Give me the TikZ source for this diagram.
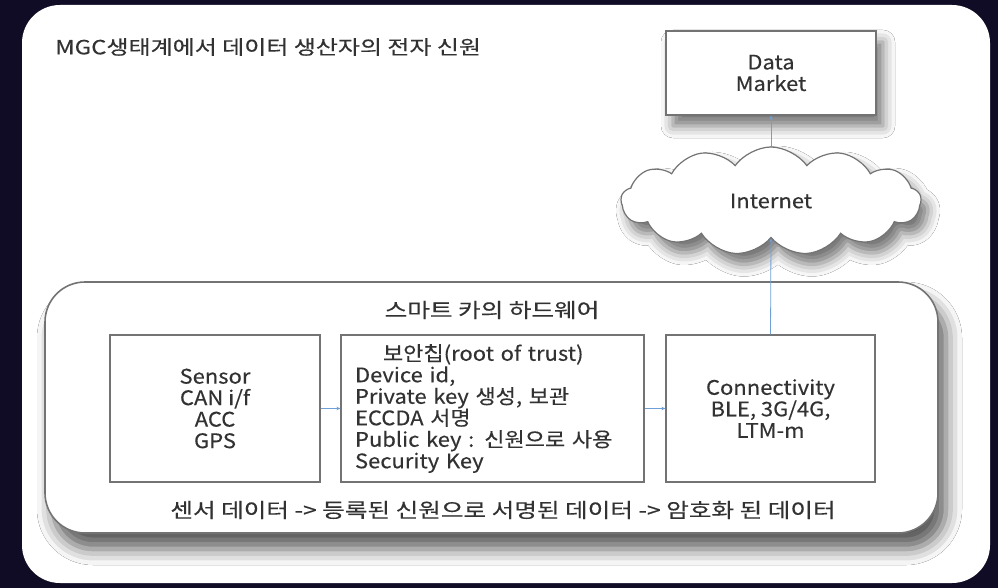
\documentclass[tikz,border=0pt]{standalone}
\usepackage{fontspec}
\setmainfont{Noto Sans CJK KR}
\newfontfamily\boxfont[FakeStretch=1.1,FakeBold=0.3]{Noto Sans CJK KR}
\newfontfamily\widefont[FakeStretch=1.23,FakeBold=0.3]{Noto Sans CJK KR}
\usetikzlibrary{shapes.symbols,shadows.blur,arrows.meta}
\definecolor{navy}{RGB}{16,12,38}
\definecolor{txt}{RGB}{50,50,50}
\definecolor{edge}{RGB}{115,115,115}
\definecolor{link}{RGB}{110,160,215}
\tikzset{
  boxnode/.style={draw=edge, line width=1.2pt, fill=white, minimum height=147pt, text=txt, inner sep=0pt,
    font=\boxfont\fontsize{20}{21.5}\selectfont, align=center},
  conn/.style={draw=link, line width=0.8pt, -{Stealth[length=4pt,width=3.5pt]}},
  softshadow/.style={blur shadow={shadow xshift=7pt, shadow yshift=-11pt, shadow blur radius=12pt, shadow opacity=55}},
  bigshadow/.style={blur shadow={shadow xshift=8pt, shadow yshift=-16pt, shadow blur radius=16pt, shadow opacity=65}},
  plaintext/.style={text=txt, inner sep=0pt, font=\widefont\fontsize{20}{22}\selectfont},
}
\begin{document}
\begin{tikzpicture}[x=1pt,y=-1pt]
\useasboundingbox (0,0) rectangle (998,588);
\fill[navy] (0,0) rectangle (998,588);
\fill[white, rounded corners=38pt] (22,5) rectangle (990,583);

\node[plaintext, anchor=west, font=\widefont\fontsize{19.5}{22}\selectfont] (title) at (55,47) {MGC생태계에서 데이터 생산자의 전자 신원};

\node[boxnode, minimum width=210pt, minimum height=84pt, softshadow] (market) at (771,73) {Data\\Market};

\node[cloud, cloud puffs=13, cloud puff arc=110, cloud ignores aspect, minimum width=300pt, minimum height=108pt,
  draw=edge, line width=1.2pt, fill=white, text=txt, softshadow, font=\boxfont\fontsize{20}{22}\selectfont] (cloud) at (771,201) {Internet};

\node[draw=edge, line width=1.6pt, rounded corners=40pt, fill=white, bigshadow, minimum width=893pt, minimum height=251pt, inner sep=0pt] (hw) at (491.5,407.5) {};
\node[plaintext] (hwlabel) at (492,310) {스마트 카의 하드웨어};

\node[boxnode, minimum width=210pt] (sensor) at (215,408.5) {Sensor\\CAN i/f\\ACC\\GPS};
\node[boxnode, minimum width=289pt, text width=275pt, align=left, inner xsep=14pt] (chip) at (492.5,408.5)
  {\hspace*{28pt}보안칩(root of trust)\\Device id,\\Private key 생성, 보관\\ECCDA 서명\\Public key : 신원으로 사용\\Security Key};
\node[boxnode, minimum width=209pt] (comm) at (770.5,408.5) {Connectivity\\BLE, 3G/4G,\\LTM-m};

\node[plaintext] (flow) at (503,510) {센서 데이터 -> 등록된 신원으로 서명된 데이터 -> 암호화 된 데이터};

\draw[conn] (sensor.east) -- (chip.west);
\draw[conn] (chip.east) -- (comm.west);
\draw[conn] (comm.north) -- (cloud.south);
\draw[conn] (cloud.north) -- (market.south);
\end{tikzpicture}
\end{document}
